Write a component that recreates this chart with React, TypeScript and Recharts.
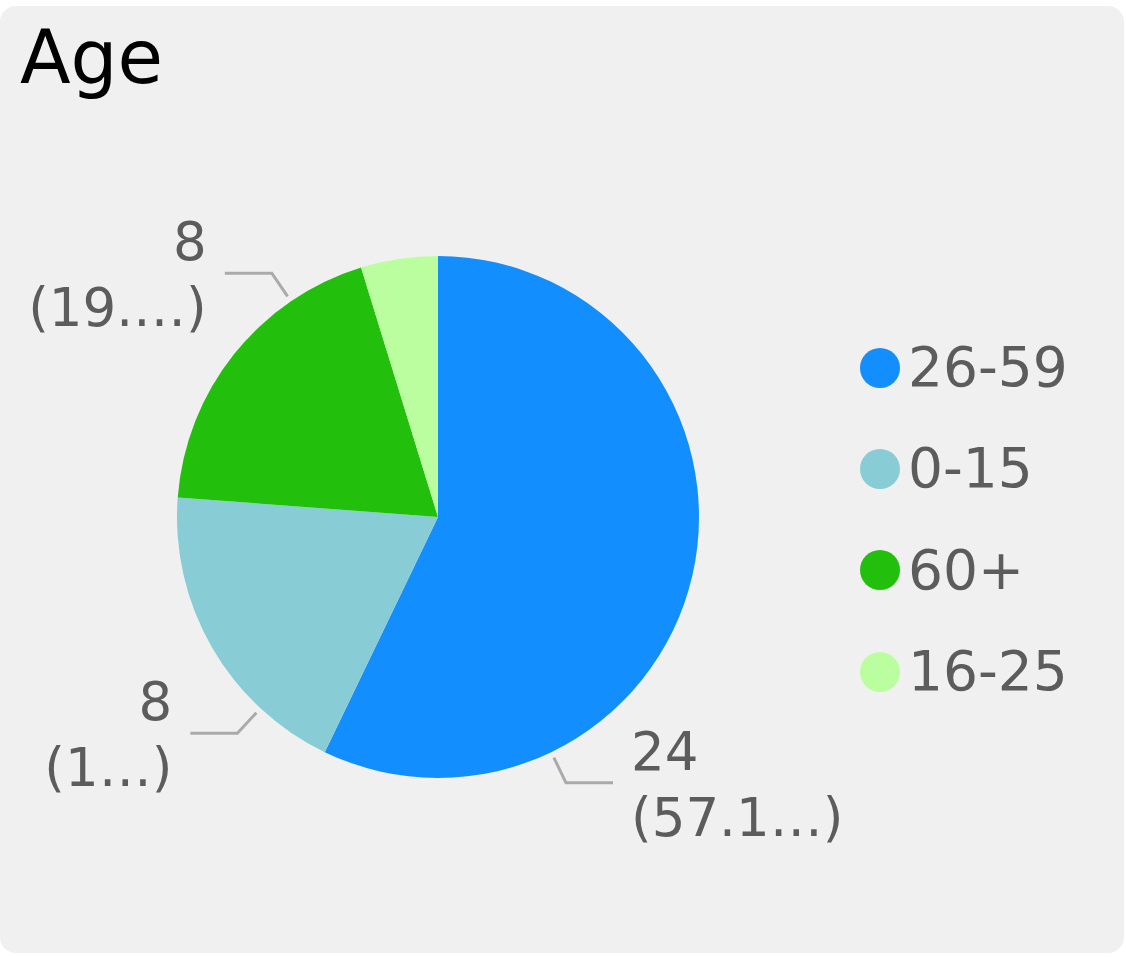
import React from "react";
import { PieChart, Pie, Cell, Legend } from "recharts";

const categories = ["26-59", "0-15", "60+", "16-25"];
const counts = [24, 8, 8, 2];
const colors = ["#128efe", "#88cdd6", "#22c00c", "#bbfea0"];
const title = "Age";

const data = categories.map((name, i) => ({ name, value: counts[i] }));
const total = counts.reduce((a, b) => a + b, 0);

// layout constants
const W = 1126;
const H = 957;
const CX = 438;
const CY = 517;
const R = 261;
const FONT = "'DejaVu Sans', Verdana, sans-serif";
const LABEL_FONT = 53;
const LEGEND_FONT = 55;
const TEXT_COLOR = "#5c5c5c";
const LINE_COLOR = "#aaaaaa";
// where along each slice the label leader line starts (fraction of the arc)
const LABEL_ANCHOR = [0.75, 0.25, 0.75, 0.5];
const LEFT_LIMIT = 15;
const RIGHT_LIMIT = 855;

const RAD = Math.PI / 180;
const polar = (cx: number, cy: number, r: number, a: number) => ({
  x: cx + r * Math.cos(-a * RAD),
  y: cy + r * Math.sin(-a * RAD),
});

const charW = (c: string) => {
  if (/[0-9]/.test(c)) return 0.636;
  if (c === ".") return 0.318;
  if (c === "(" || c === ")") return 0.39;
  if (c === "%") return 1.0;
  if (c === "\u2026") return 1.0;
  return 0.6;
};
const textW = (s: string) => s.split("").reduce((a, c) => a + charW(c), 0) * LABEL_FONT;

const fitPercent = (pct: string, avail: number) => {
  const full = `(${pct})`;
  if (textW(full) <= avail) return full;
  for (let n = pct.length - 1; n >= 1; n--) {
    const s = `(${pct.slice(0, n)}\u2026)`;
    if (textW(s) <= avail) return s;
  }
  return `(\u2026)`;
};

const renderLabel = (props: any) => {
  const { cx, cy, outerRadius, startAngle, endAngle, value, index, percent } = props;
  if (percent < 0.05) return null;
  const f = LABEL_ANCHOR[index] ?? 0.5;
  const a = startAngle + f * (endAngle - startAngle);
  const p1 = polar(cx, cy, outerRadius + 6, a);
  const p2 = polar(cx, cy, outerRadius + 34, a);
  const right = Math.cos(-a * RAD) >= 0;
  const p3 = { x: p2.x + (right ? 47 : -47), y: p2.y };
  const tx = p3.x + (right ? 18 : -18);
  const avail = right ? RIGHT_LIMIT - tx : tx - LEFT_LIMIT;
  const pct = `${((value / total) * 100).toFixed(2)}%`;
  const second = fitPercent(pct, avail);
  return (
    <g key={`lbl-${index}`}>
      <polyline
        points={`${p1.x},${p1.y} ${p2.x},${p2.y} ${p3.x},${p3.y}`}
        fill="none"
        stroke={LINE_COLOR}
        strokeWidth={3}
      />
      <text
        x={tx}
        y={p3.y - 13}
        textAnchor={right ? "start" : "end"}
        fontFamily={FONT}
        fontSize={LABEL_FONT}
        fill={TEXT_COLOR}
      >
        {String(value)}
      </text>
      <text
        x={tx}
        y={p3.y + 53}
        textAnchor={right ? "start" : "end"}
        fontFamily={FONT}
        fontSize={LABEL_FONT}
        fill={TEXT_COLOR}
      >
        {second}
      </text>
    </g>
  );
};

const renderLegend = () => (
  <div style={{ fontFamily: FONT }}>
    {categories.map((c, i) => (
      <div
        key={c}
        style={{ height: 101.3, display: "flex", alignItems: "center" }}
      >
        <div
          style={{
            width: 40,
            height: 40,
            borderRadius: 20,
            background: colors[i],
            marginRight: 8,
            flex: "none",
          }}
        />
        <span style={{ fontSize: LEGEND_FONT, lineHeight: 1, color: TEXT_COLOR }}>{c}</span>
      </div>
    ))}
  </div>
);

export default function App() {
  return (
    <div style={{ position: "absolute", left: 0, top: 0, width: W, height: H, background: "#ffffff" }}>
      <div
        style={{
          position: "absolute",
          left: 0,
          top: 6,
          width: 1124,
          height: 947,
          borderRadius: 16,
          background: "#f0f0f0",
        }}
      />
      <div
        style={{
          position: "absolute",
          left: 20,
          top: 20,
          fontFamily: FONT,
          fontSize: 74,
          lineHeight: 1,
          color: "#000000",
        }}
      >
        {title}
      </div>
      <div style={{ position: "absolute", left: 0, top: 0 }}>
        <PieChart width={W} height={H} margin={{ top: 0, right: 0, bottom: 0, left: 0 }}>
          <Pie
            data={data}
            dataKey="value"
            nameKey="name"
            cx={CX}
            cy={CY}
            outerRadius={R}
            startAngle={90}
            endAngle={-270}
            stroke="none"
            label={renderLabel}
            labelLine={false}
            isAnimationActive={false}
          >
            {data.map((d, i) => (
              <Cell key={d.name} fill={colors[i]} />
            ))}
          </Pie>
          <Legend
            content={renderLegend}
            wrapperStyle={{ position: "absolute", left: 860, top: 317, width: 260 }}
          />
        </PieChart>
      </div>
    </div>
  );
}
